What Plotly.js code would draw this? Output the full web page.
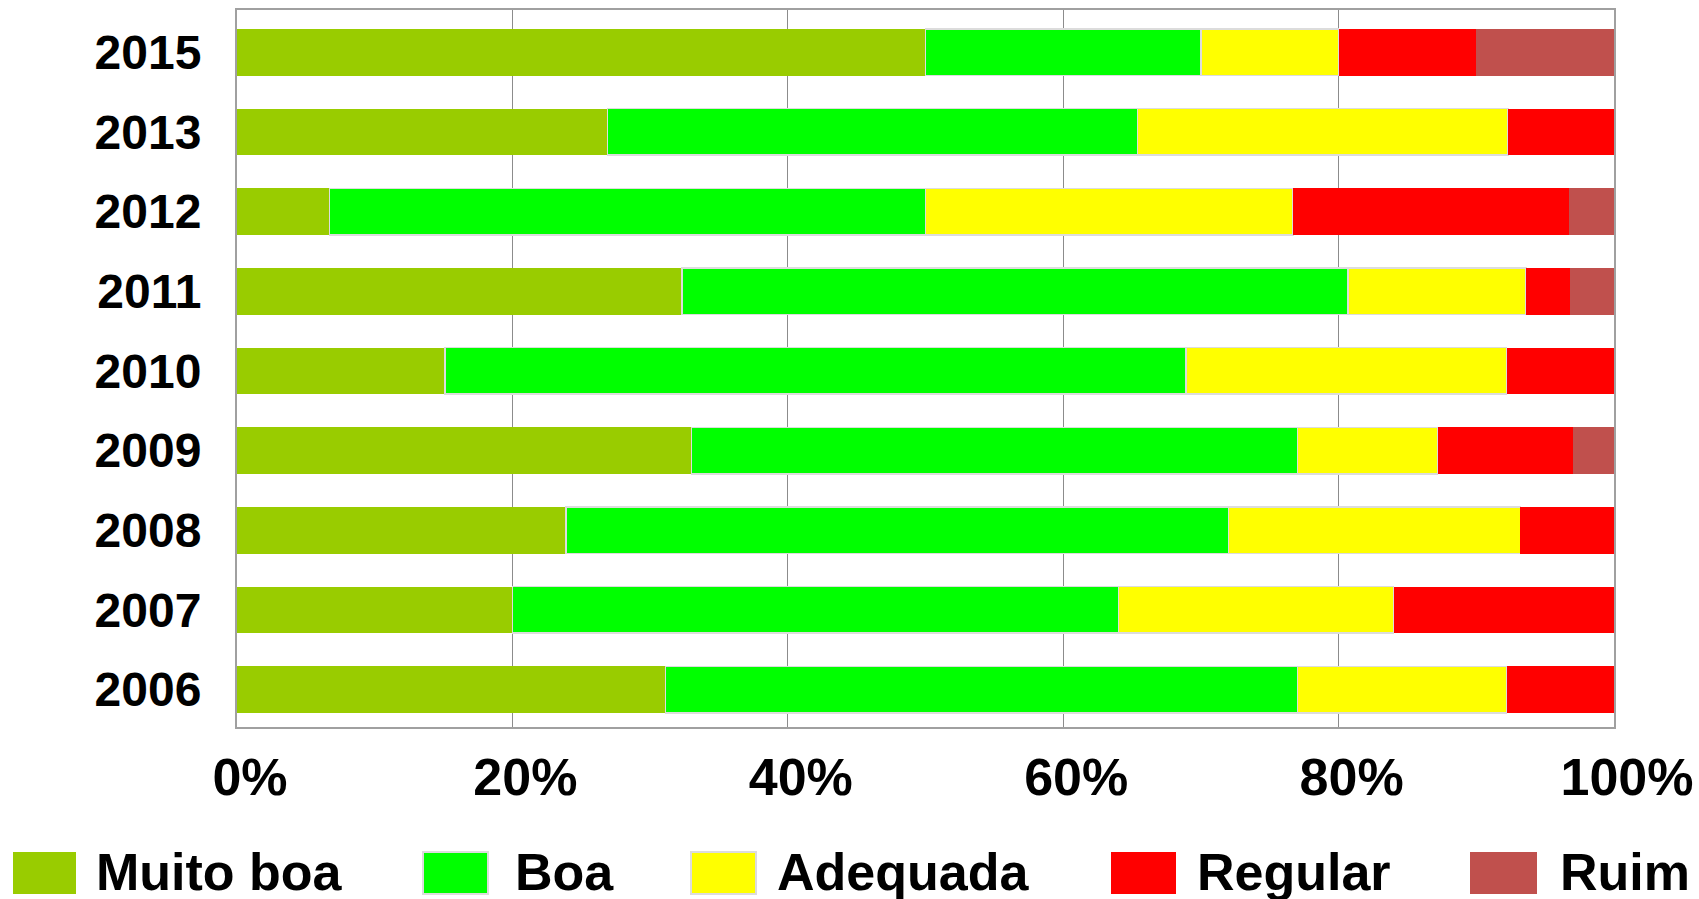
<!DOCTYPE html>
<html>
<head>
<meta charset="utf-8">
<script src="https://cdn.plot.ly/plotly-3.0.1.min.js"></script>
<style>
html,body{margin:0;padding:0;background:#fff;}
#chart{width:1699px;height:899px;}
</style>
</head>
<body>
<div id="chart"></div>
<script>
// ---- data ----
const years = ['2015','2013','2012','2011','2010','2009','2008','2007','2006'];
const seriesNames = ['Muito boa','Boa','Adequada','Regular','Ruim'];
const muitoBoa = [50.0, 26.9, 6.7, 32.3, 15.1, 33.0, 23.9, 20.0, 31.1];
const boa      = [20.0, 38.5, 43.3, 48.4, 53.8, 44.0, 48.1, 44.0, 45.9];
const adequada = [10.0, 26.9, 26.7, 12.9, 23.3, 10.2, 21.2, 20.0, 15.2];
const regular  = [10.0,  7.7, 20.0,  3.2,  7.8,  9.8,  6.8, 16.0,  7.8];
const ruim     = [10.0,  0.0,  3.3,  3.2,  0.0,  3.0,  0.0,  0.0,  0.0];
const xTickVals = [0, 20, 40, 60, 80, 100];
const xTickText = ['0%','20%','40%','60%','80%','100%'];

// ---- styles ----
const colors = ['#99CC00','#00FF00','#FFFF00','#FF0000','#C0504D'];
const outlined = [false, true, true, false, false];
const values = [muitoBoa, boa, adequada, regular, ruim];
const FONT = 'Liberation Sans, Arial, sans-serif';

const W = 1699, H = 899;
const M = {l: 237, r: 85, t: 10, b: 172};
const pw = W - M.l - M.r, ph = H - M.t - M.b;
const px2x = p => (p - M.l) / pw;
const py2y = p => (H - M.b - p) / ph;

const traces = seriesNames.map((name, i) => ({
  type: 'bar',
  orientation: 'h',
  name: name,
  y: years,
  x: values[i],
  marker: {
    color: colors[i],
    line: {color: outlined[i] ? '#dcdcdc' : 'rgba(0,0,0,0)', width: outlined[i] ? 1.5 : 0}
  },
  hoverinfo: 'none',
  showlegend: false
}));

// custom legend (large swatches like the original)
const swatchX = [[13,76],[423,488],[691,756],[1111,1176],[1470,1537]];
const textX = [94, 513, 775, 1195, 1558];
const shapes = [];
const annotations = [];
seriesNames.forEach((name, i) => {
  shapes.push({
    type: 'rect', xref: 'paper', yref: 'paper',
    x0: px2x(swatchX[i][0]), x1: px2x(swatchX[i][1]),
    y0: py2y(894), y1: py2y(852),
    fillcolor: colors[i],
    line: {color: outlined[i] ? '#dcdcdc' : colors[i], width: outlined[i] ? 2 : 0}
  });
  annotations.push({
    xref: 'paper', yref: 'paper',
    x: px2x(textX[i]), y: py2y(872),
    xanchor: 'left', yanchor: 'middle',
    text: name, showarrow: false,
    font: {family: FONT, size: 52, color: '#000', weight: 'bold'}
  });
});

const layout = {
  width: W, height: H,
  margin: M,
  paper_bgcolor: '#ffffff',
  plot_bgcolor: '#ffffff',
  barmode: 'stack',
  bargap: 0.415,
  showlegend: false,
  xaxis: {
    range: [0, 100],
    tickvals: xTickVals,
    ticktext: xTickText,
    showgrid: true, gridcolor: '#8c8c8c', gridwidth: 1,
    zeroline: false,
    showline: true, mirror: true, linecolor: '#a0a0a0', linewidth: 2,
    ticks: '', ticklabelstandoff: 4, ticklabelshift: 13,
    tickfont: {family: FONT, size: 52, color: '#000', weight: 'bold'},
    fixedrange: true
  },
  yaxis: {
    type: 'category',
    range: [8.47, -0.53],
    showgrid: false, zeroline: false,
    showline: true, mirror: true, linecolor: '#a0a0a0', linewidth: 2,
    ticks: '', ticklabelstandoff: 24,
    tickfont: {family: FONT, size: 48, color: '#000', weight: 'bold'},
    fixedrange: true
  },
  shapes: shapes,
  annotations: annotations
};

Plotly.newPlot('chart', traces, layout, {displayModeBar: false, staticPlot: true});
</script>
</body>
</html>
